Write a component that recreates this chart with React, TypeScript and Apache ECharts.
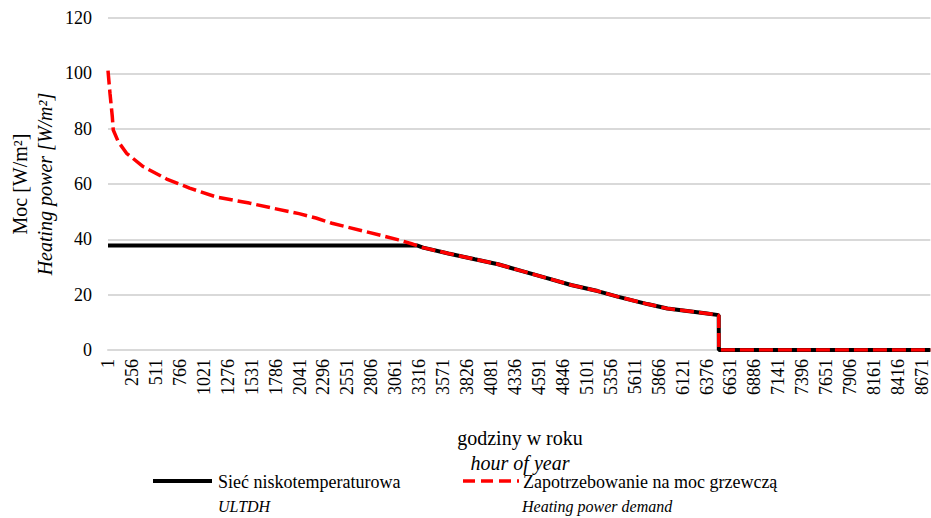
import React, { useEffect, useRef } from "react";
import * as echarts from "echarts";

// hour index (hour of year - 1) and heating power demand [W/m2]
const demandHours = [0, 21, 46, 56, 109, 198, 374, 625, 869, 1155, 1505, 1749, 2035, 2215, 2385, 2745, 3095, 3233, 3356, 3625, 3907, 4155, 4402, 4685, 4932, 5215, 5427, 5745, 5957, 6148, 6360, 6505, 6506, 8759];
const demandValues = [101, 92.8, 84.3, 79.5, 75.3, 71.1, 66.3, 61.8, 58.5, 55.3, 53.1, 51.3, 49.3, 47.7, 45.8, 42.8, 39.8, 38.4, 37.0, 34.9, 32.8, 31.0, 28.6, 25.9, 23.5, 21.3, 19.3, 16.6, 15.0, 14.2, 13.3, 12.6, 0, 0];

// low temperature network (ULTDH)
const networkHours = [0, 3290, 3356, 3625, 3907, 4155, 4402, 4685, 4932, 5215, 5427, 5745, 5957, 6148, 6360, 6505, 6506, 8759];
const networkValues = [37.8, 37.8, 37.0, 34.9, 32.8, 31.0, 28.6, 25.9, 23.5, 21.3, 19.3, 16.6, 15.0, 14.2, 13.3, 12.6, 0, 0];

const xLabelStep = 255;
const hoursInYear = 8760;
const yMin = 0;
const yMax = 120;
const yStep = 20;

const seriesNames = ["Sieć niskotemperaturowa", "Zapotrzebowanie na moc grzewczą"];
const seriesNamesEn = ["ULTDH", "Heating power demand"];
const yTitle = ["Moc [W/m²]", "Heating power [W/m²]"];
const xTitle = ["godziny w roku", "hour of year"];

const FAMILY = "Liberation Serif";

export default function App() {
  const ref = useRef<HTMLDivElement>(null);
  useEffect(() => {
    if (!ref.current) return;
    const chart = echarts.init(ref.current, undefined, { renderer: "svg" });
    const network = networkHours.map((h, i) => [h, networkValues[i]]);
    const demand = demandHours.map((h, i) => [h, demandValues[i]]);
    const txt = (text: string, x: number, y: number, size: number, italic: boolean, align: string, rot = 0) => ({
      type: "text",
      x,
      y,
      rotation: rot,
      style: {
        text,
        fontFamily: FAMILY,
        fontSize: size,
        fontStyle: italic ? "italic" : "normal",
        fill: "#000",
        align,
        verticalAlign: "middle",
      },
    });
    chart.setOption({
      animation: false,
      backgroundColor: "#ffffff",
      grid: { left: 108, top: 18, right: -3, bottom: 168, containLabel: false },
      xAxis: {
        type: "value",
        min: 0,
        max: hoursInYear - 1,
        interval: xLabelStep,
        axisLine: { show: true, lineStyle: { color: "#d9d9d9", width: 2 } },
        axisTick: { show: false },
        splitLine: { show: false },
        axisLabel: {
          rotate: 90,
          margin: 9,
          fontSize: 18,
          fontFamily: FAMILY,
          color: "#000",
          showMaxLabel: false,
          formatter: (v: number) => String(v + 1),
        },
      },
      yAxis: {
        type: "value",
        min: yMin,
        max: yMax,
        interval: yStep,
        axisLine: { show: false },
        axisTick: { show: false },
        splitLine: { show: true, lineStyle: { color: "#d9d9d9", width: 2 } },
        axisLabel: { fontSize: 18, fontFamily: FAMILY, color: "#000", margin: 16 },
      },
      series: [
        {
          name: seriesNames[0],
          type: "line",
          data: network,
          showSymbol: false,
          lineStyle: { color: "#000000", width: 4 },
          z: 2,
        },
        {
          name: seriesNames[1],
          type: "line",
          data: demand,
          showSymbol: false,
          lineStyle: { color: "#ff0000", width: 3.5, type: [14, 5] },
          z: 3,
        },
      ],
      graphic: [
        txt(yTitle[0], 20, 184, 20, false, "center", Math.PI / 2),
        txt(yTitle[1], 45, 184, 20, true, "center", Math.PI / 2),
        txt(xTitle[0], 520, 438, 20, false, "center"),
        txt(xTitle[1], 520, 463, 20, true, "center"),
        {
          type: "line",
          shape: { x1: 153, y1: 481, x2: 212, y2: 481 },
          style: { stroke: "#000", lineWidth: 4 },
        },
        txt(seriesNames[0], 218, 482, 18, false, "left"),
        txt(seriesNamesEn[0], 218, 506, 16, true, "left"),
        {
          type: "line",
          shape: { x1: 463, y1: 481, x2: 519, y2: 481 },
          style: { stroke: "#ff0000", lineWidth: 3.5, lineDash: [12, 6] },
        },
        txt(seriesNames[1], 523, 482, 18, false, "left"),
        txt(seriesNamesEn[1], 522, 506, 16, true, "left"),
      ],
    });
    return () => chart.dispose();
  }, []);
  return (
    <div
      ref={ref}
      style={{ position: "fixed", left: 0, top: 0, width: 931, height: 518, background: "#fff" }}
    />
  );
}
